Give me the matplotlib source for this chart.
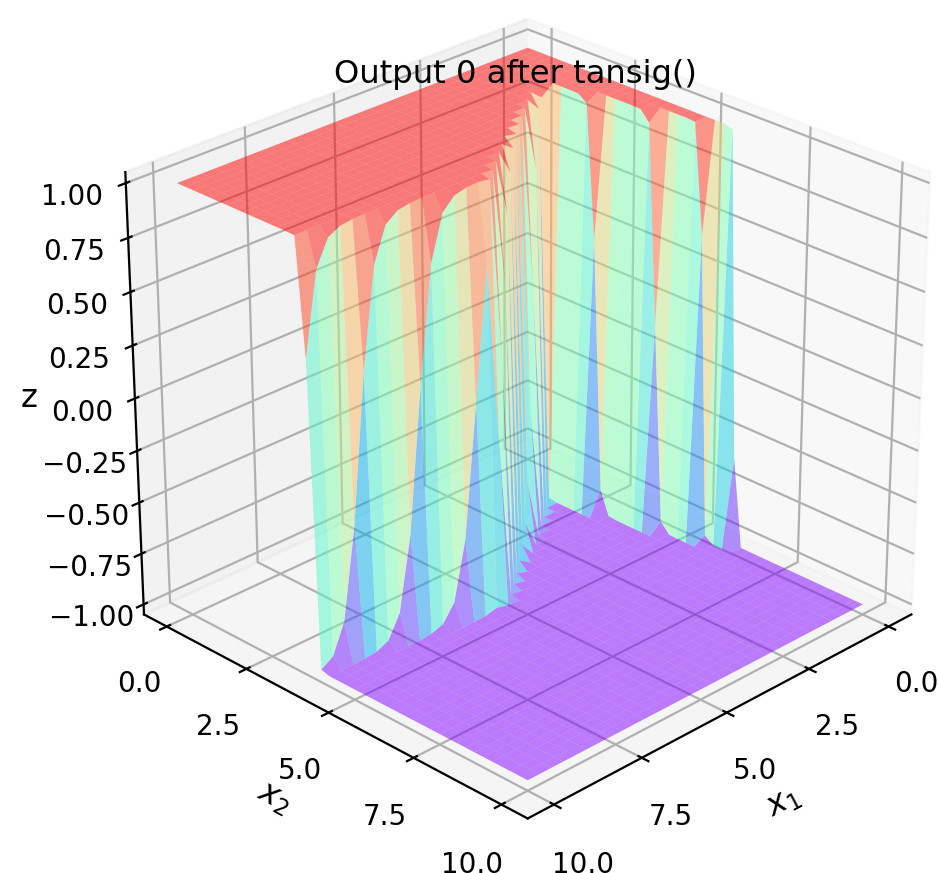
import numpy as np
import matplotlib
matplotlib.use("Agg")
import matplotlib.pyplot as plt
plt.rcParams["font.size"] = 10

title = "Output 0 after tansig()"
x1_points = 31
x2_points = 41
xy_ticks = [0.0, 2.5, 5.0, 7.5, 10.0]
xy_ticklabels = ["0.0", "2.5", "5.0", "7.5", "10.0"]
z_ticks = [-1.0, -0.75, -0.5, -0.25, 0.0, 0.25, 0.5, 0.75, 1.0]
z_ticklabels = ["\u22121.00", "\u22120.75", "\u22120.50", "\u22120.25", "0.00", "0.25", "0.50", "0.75", "1.00"]
# boundary between the z=+1 plateau and the z=-1 floor
boundary_x1 = [0.0, 1/3, 2/3, 1.0, 4/3, 5.5, 10.0]
boundary_x2 = [6.2, 5.55, 4.5, 3.05, 1.85, 4.59, 3.79]
wall_widths = [0.035, 0.035, 0.035, 0.035, 0.03, 0.08, 0.08]

x1 = np.linspace(0, 10, x1_points)
x2 = np.linspace(0, 10, x2_points)
X1, X2 = np.meshgrid(x1, x2)
edge = np.interp(X1, boundary_x1, boundary_x2)
width = np.interp(X1, boundary_x1, wall_widths)
slope = np.gradient(np.interp(x1, boundary_x1, boundary_x2), x1)
norm = np.sqrt(1 + slope**2)[None, :]
Z = np.tanh(-(X2 - edge) / norm / width)

fig = plt.figure(figsize=(9.39/2, 8.73/2), dpi=200)
ax = fig.add_axes([0.0494, 0.030, 1, 1], projection="3d")
ax.plot_surface(X1, X2, Z, cmap="rainbow", alpha=0.5, rstride=1, cstride=1, linewidth=0)
ax.view_init(elev=26.9, azim=45)
ax.set_box_aspect((4, 4, 3.57), zoom=1.033)
ax.set_xticks(xy_ticks, xy_ticklabels)
ax.set_yticks(xy_ticks, xy_ticklabels)
ax.set_zticks(z_ticks, z_ticklabels)
ax.set_xlim(-0.73, 10.73)
ax.set_ylim(-0.73, 10.73)
ax.set_zlim(-1.05, 1.05)
ax.tick_params(axis="z", pad=3)
ax.set_xlabel("$x_1$", fontsize=11.6, labelpad=2)
ax.set_ylabel("$x_2$", fontsize=11.6, labelpad=1)
ax.set_zlabel("z", fontsize=11.6, labelpad=1)
ax.set_title(title, fontsize=11.6, x=0.499, y=0.930)
fig.savefig("out.png", dpi=200)
